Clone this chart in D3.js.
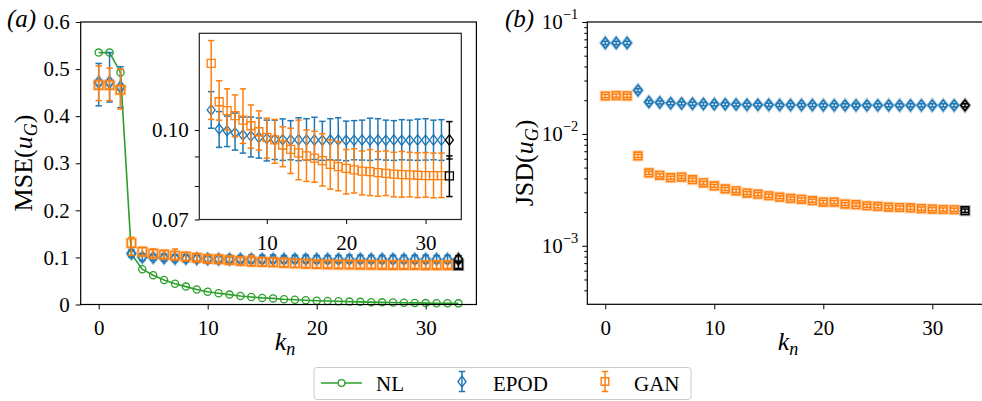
<!DOCTYPE html>
<html><head><meta charset="utf-8">
<script src="https://cdn.jsdelivr.net/npm/d3@7"></script>
<style>
body{margin:0;background:#fff}
svg{display:block}
text{font-family:"Liberation Serif","Times New Roman","DejaVu Serif",serif;fill:#000}
</style>
</head><body>
<svg id="c" width="982" height="401"></svg>
<script>
// ---------------- DATA ----------------
const kNL = [0,1,2,3,4,5,6,7,8,9,10,11,12,13,14,15,16,17,18,19,20,21,22,23,24,25,26,27,28,29,30,31,32,33];
const kModel = [0,1,2,3,4,5,6,7,8,9,10,11,12,13,14,15,16,17,18,19,20,21,22,23,24,25,26,27,28,29,30,31,32];
const kRef = 33;

const nlMse = [0.535,0.535,0.493,0.107,0.075,0.062,0.052,0.044,0.038,0.032,0.027,0.024,0.021,0.018,0.016,0.014,0.013,0.011,0.010,0.009,0.008,0.0075,0.007,0.0062,0.0056,0.005,0.0046,0.0042,0.0038,0.0034,0.003,0.0028,0.0026,0.0024];

const epodMse = [0.472,0.472,0.462,0.1083,0.1004,0.0997,0.0989,0.0980,0.0976,0.0971,0.0967,0.0963,0.0962,0.0961,0.0962,0.0961,0.0961,0.0960,0.0961,0.0961,0.0960,0.0960,0.0961,0.0960,0.0961,0.0960,0.0961,0.0960,0.0960,0.0961,0.0960,0.0961,0.0961];
const epodLo = [0.422,0.430,0.418,0.1007,0.0933,0.0936,0.0923,0.0912,0.0898,0.0894,0.0884,0.0889,0.0886,0.0888,0.0885,0.0887,0.0889,0.0886,0.0888,0.0887,0.0885,0.0888,0.0887,0.0886,0.0889,0.0887,0.0886,0.0888,0.0887,0.0886,0.0887,0.0888,0.0886];
const epodHi = [0.512,0.535,0.505,0.1165,0.1076,0.1057,0.1070,0.1053,0.1053,0.1049,0.1040,0.1040,0.1045,0.1038,0.1050,0.1046,0.1052,0.1035,0.1046,0.1050,0.1036,0.1038,0.1040,0.1048,0.1046,0.1040,0.1038,0.1042,0.1040,0.1044,0.1046,0.1040,0.1042];

const ganMse = [0.466,0.466,0.456,0.1304,0.1119,0.1080,0.1059,0.1040,0.1017,0.0993,0.0971,0.0961,0.0942,0.0926,0.0913,0.0902,0.0894,0.0885,0.0872,0.0864,0.0858,0.0853,0.0849,0.0847,0.0844,0.0841,0.0839,0.0837,0.0836,0.0835,0.0834,0.0834,0.0834];
const ganLo = [0.433,0.433,0.415,0.1043,0.1040,0.1000,0.0974,0.0948,0.0930,0.0923,0.0894,0.0876,0.0864,0.0841,0.0820,0.0815,0.0812,0.0800,0.0790,0.0785,0.0775,0.0778,0.0772,0.0770,0.0768,0.0770,0.0766,0.0765,0.0766,0.0764,0.0765,0.0763,0.0764];
const ganHi = [0.507,0.502,0.500,0.1428,0.1217,0.1178,0.1150,0.1178,0.1105,0.1079,0.1048,0.1043,0.1013,0.1007,0.1040,0.1000,0.0995,0.0985,0.0962,0.0955,0.0925,0.0928,0.0920,0.0925,0.0918,0.0920,0.0915,0.0918,0.0915,0.0913,0.0914,0.0912,0.0912];

const refEpodMse = [0.0961, 0.0891, 0.1034]; // value, low, high
const refGanMse  = [0.0833, 0.0767, 0.0902];

const jsdEpod = [0.065,0.065,0.065,0.0245,0.0193,0.0191,0.0188,0.0187,0.0186,0.0185,0.0184,0.0184,0.0183,0.0182,0.0182,0.0182,0.0181,0.0181,0.0181,0.0181,0.0180,0.0180,0.0180,0.0180,0.0180,0.0180,0.0180,0.0180,0.0180,0.0180,0.0180,0.0180,0.0180];
const jsdEpodErr = [0.0022,0.0022,0.0022,0.0008,0.0006,0.0006,0.0006,0.0006,0.0006,0.0006,0.0006,0.0006,0.0006,0.0006,0.0006,0.0006,0.0006,0.0006,0.0006,0.0006,0.0006,0.0006,0.0006,0.0006,0.0006,0.0006,0.0006,0.0006,0.0006,0.0006,0.0006,0.0006,0.0006];
const jsdGan = [0.0218,0.0220,0.0219,0.00635,0.00448,0.00426,0.00406,0.00411,0.00390,0.00365,0.00343,0.00322,0.00310,0.00296,0.00289,0.00280,0.00272,0.00265,0.00260,0.00253,0.00246,0.00246,0.00236,0.00233,0.00228,0.00225,0.00222,0.00220,0.00218,0.00215,0.00213,0.00211,0.00210];
const jsdGanErr = [0.0007,0.0007,0.0007,0.0002,0.00014,0.00013,0.00012,0.00012,0.00012,0.00011,0.0001,0.0001,0.0001,0.00009,0.00009,0.00009,0.00008,0.00008,0.00008,0.00008,0.00008,0.00008,0.00007,0.00007,0.00007,0.00007,0.00007,0.00007,0.00007,0.00007,0.00007,0.00007,0.00007];
const refJsdEpod = [0.0180, 0.0006];
const refJsdGan = [0.00206, 0.00007];

const xTicks = [0,10,20,30];
const yTicksL = [0,0.1,0.2,0.3,0.4,0.5,0.6];
const yTickLabelsL = ["0","0.1","0.2","0.3","0.4","0.5","0.6"];
const yMajorR = [1e-3,1e-2,1e-1];
const yMajorRExp = ["−3","−2","−1"];
const yMinorR = [4e-4,5e-4,6e-4,7e-4,8e-4,9e-4,2e-3,3e-3,4e-3,5e-3,6e-3,7e-3,8e-3,9e-3,2e-2,3e-2,4e-2,5e-2,6e-2,7e-2,8e-2,9e-2];
const insetXTicks = [10,20,30];
const insetYTicks = [0.07,0.08,0.09,0.10];
const insetYLabels = ["0.07","","","0.10"];
const legendNames = ["NL","EPOD","GAN"];

// ---------------- STYLE ----------------
const C = {nl:"#2ca02c", epod:"#1f77b4", gan:"#ff7f0e", ref:"#000"};
const L = {x0:80.7, x1:476.4, y0:22, y1:304.5};
const R = {x0:587.3, x1:983, y0:22, y1:304.3};
const I = {x0:199.3, x1:461.3, y0:33.3, y1:219.5};
const TF = 21; // tick font

const svg = d3.select("#c");

const xL = d3.scaleLinear().domain([-1.65,34.65]).range([L.x0,L.x1]);
const yL = d3.scaleLinear().domain([0,0.6]).range([L.y1,L.y0]);
const xR = d3.scaleLinear().domain([-1.65,34.65]).range([R.x0,R.x1]);
const yR = d3.scaleLog().domain([3e-4,1e-1]).range([R.y1,R.y0]);
const xI = d3.scaleLinear().domain([1.5,34.5]).range([I.x0,I.x1]);
const yI = d3.scaleLog().domain([0.07,0.147]).range([I.y1,I.y0]);

function diamond(cx,cy,hw,hh){return `M${cx},${cy-hh}L${cx+hw},${cy}L${cx},${cy+hh}L${cx-hw},${cy}Z`;}
function square(cx,cy,h){return `M${cx-h},${cy-h}H${cx+h}V${cy+h}H${cx-h}Z`;}

function errBar(g,x,yLo,yHi,color,cap,lw){
  g.append("line").attr("x1",x).attr("x2",x).attr("y1",yLo).attr("y2",yHi).attr("stroke",color).attr("stroke-width",lw);
  g.append("line").attr("x1",x-cap).attr("x2",x+cap).attr("y1",yLo).attr("y2",yLo).attr("stroke",color).attr("stroke-width",lw);
  g.append("line").attr("x1",x-cap).attr("x2",x+cap).attr("y1",yHi).attr("y2",yHi).attr("stroke",color).attr("stroke-width",lw);
}

function series(g, ks, vals, lo, hi, xs, ys, color, shape, opt){
  ks.forEach((k,i)=>{
    errBar(g, xs(k), ys(lo[i]), ys(hi[i]), color, opt.cap, opt.lw);
  });
  ks.forEach((k,i)=>{
    const cx=xs(k), cy=ys(vals[i]);
    const d = shape==="d" ? diamond(cx,cy,opt.hw,opt.hh) : square(cx,cy,opt.sq);
    if (opt.halo) g.append("path").attr("d",d).attr("fill","none").attr("stroke",color)
        .attr("stroke-opacity",0.3).attr("stroke-width",opt.halo);
    g.append("path").attr("d",d).attr("fill","none").attr("stroke",color).attr("stroke-width",opt.mlw);
  });
}

function frame(g,b,stroke,sw){
  g.append("rect").attr("x",b.x0).attr("y",b.y0).attr("width",b.x1-b.x0).attr("height",b.y1-b.y0)
   .attr("fill","none").attr("stroke",stroke).attr("stroke-width",sw);
}

function styleAxis(a){
  a.attr("font-family",null).attr("font-size",null);
  a.select(".domain").remove();
  a.selectAll(".tick line").attr("stroke","#000").attr("stroke-width",1);
  a.selectAll(".tick text").attr("font-size",TF).attr("fill","#000");
}

// ---------------- LEFT PANEL ----------------
const gL = svg.append("g");
const axL = gL.append("g").attr("transform",`translate(0,${L.y1})`)
  .call(d3.axisBottom(xL).tickValues(xTicks).tickSize(5).tickPadding(6).tickFormat(d3.format("d")));
styleAxis(axL);
const ayL = gL.append("g").attr("transform",`translate(${L.x0},0)`)
  .call(d3.axisLeft(yL).tickValues(yTicksL).tickSize(5).tickPadding(6).tickFormat((d,i)=>yTickLabelsL[i]));
styleAxis(ayL);
axL.selectAll(".tick text").attr("dy","0.95em");

// NL line
const lineNL = d3.line().x((d,i)=>xL(kNL[i])).y(d=>yL(d));
gL.append("path").attr("d",lineNL(nlMse)).attr("fill","none").attr("stroke",C.nl).attr("stroke-width",1.6);
nlMse.forEach((v,i)=>{
  gL.append("circle").attr("cx",xL(kNL[i])).attr("cy",yL(v)).attr("r",3.6)
    .attr("fill","none").attr("stroke",C.nl).attr("stroke-width",1.3);
});
const optMain = {cap:3.2, lw:1.5, hw:4.2, hh:5.6, sq:4.2, mlw:1.4, halo:3.2};
series(gL,kModel,epodMse,epodLo,epodHi,xL,yL,C.epod,"d",optMain);
series(gL,kModel,ganMse,ganLo,ganHi,xL,yL,C.gan,"s",optMain);
series(gL,[kRef],[refEpodMse[0]],[refEpodMse[1]],[refEpodMse[2]],xL,yL,C.ref,"d",optMain);
series(gL,[kRef],[refGanMse[0]],[refGanMse[1]],[refGanMse[2]],xL,yL,C.ref,"s",optMain);
frame(gL,L,"#000",1.2);

// ---------------- INSET ----------------
const gI = svg.append("g");
gI.append("rect").attr("x",I.x0).attr("y",I.y0).attr("width",I.x1-I.x0).attr("height",I.y1-I.y0).attr("fill","#fff");
const axI = gI.append("g").attr("transform",`translate(0,${I.y1})`)
  .call(d3.axisBottom(xI).tickValues(insetXTicks).tickSize(4.5).tickPadding(6).tickFormat(d3.format("d")));
styleAxis(axI);
axI.selectAll(".tick text").attr("dy","0.95em");
const ayI = gI.append("g").attr("transform",`translate(${I.x0},0)`)
  .call(d3.axisLeft(yI).tickValues(insetYTicks).tickSize(4.5).tickPadding(6).tickFormat((d,i)=>insetYLabels[i]));
styleAxis(ayI);
const kIn = kModel.slice(3);
const optIn = {cap:3.2, lw:1.5, hw:4.0, hh:5.2, sq:4.0, mlw:1.3, halo:0};
series(gI,kIn,epodMse.slice(3),epodLo.slice(3),epodHi.slice(3),xI,yI,C.epod,"d",optIn);
series(gI,kIn,ganMse.slice(3),ganLo.slice(3),ganHi.slice(3),xI,yI,C.gan,"s",optIn);
series(gI,[kRef],[refEpodMse[0]],[refEpodMse[1]],[refEpodMse[2]],xI,yI,C.ref,"d",optIn);
series(gI,[kRef],[refGanMse[0]],[refGanMse[1]],[refGanMse[2]],xI,yI,C.ref,"s",optIn);
frame(gI,I,"#222",1.2);

// ---------------- RIGHT PANEL ----------------
const gR = svg.append("g");
const axR = gR.append("g").attr("transform",`translate(0,${R.y1})`)
  .call(d3.axisBottom(xR).tickValues(xTicks).tickSize(5).tickPadding(6).tickFormat(d3.format("d")));
styleAxis(axR);
axR.selectAll(".tick text").attr("dy","0.95em");
const ayR = gR.append("g").attr("transform",`translate(${R.x0},0)`)
  .call(d3.axisLeft(yR).tickValues(yMajorR).tickSize(5).tickFormat(""));
styleAxis(ayR);
const ayRm = gR.append("g").attr("transform",`translate(${R.x0},0)`)
  .call(d3.axisLeft(yR).tickValues(yMinorR).tickSize(3).tickFormat(""));
styleAxis(ayRm);
yMajorR.forEach((v,i)=>{
  const t = gR.append("text").attr("x",R.x0-9).attr("y",yR(v)).attr("text-anchor","end")
    .attr("dominant-baseline","central").attr("font-size",TF);
  t.append("tspan").text("10");
  t.append("tspan").attr("dy",-8).attr("font-size",14.5).text(yMajorRExp[i]);
});
const jsdEpodLo = jsdEpod.map((v,i)=>v-jsdEpodErr[i]);
const jsdEpodHi = jsdEpod.map((v,i)=>v+jsdEpodErr[i]);
const jsdGanLo = jsdGan.map((v,i)=>v-jsdGanErr[i]);
const jsdGanHi = jsdGan.map((v,i)=>v+jsdGanErr[i]);
const optR = {cap:3.2, lw:1.5, hw:4.2, hh:5.4, sq:3.8, mlw:1.6, halo:3.6};
series(gR,kModel,jsdEpod,jsdEpodLo,jsdEpodHi,xR,yR,C.epod,"d",optR);
series(gR,kModel,jsdGan,jsdGanLo,jsdGanHi,xR,yR,C.gan,"s",optR);
series(gR,[kRef],[refJsdEpod[0]],[refJsdEpod[0]-refJsdEpod[1]],[refJsdEpod[0]+refJsdEpod[1]],xR,yR,C.ref,"d",optR);
series(gR,[kRef],[refJsdGan[0]],[refJsdGan[0]-refJsdGan[1]],[refJsdGan[0]+refJsdGan[1]],xR,yR,C.ref,"s",optR);
frame(gR,R,"#000",1.2);

// ---------------- LABELS ----------------
function yLabel(x, cy, name){
  const t = svg.append("text").attr("transform",`translate(${x},${cy}) rotate(-90)`)
    .attr("text-anchor","middle").attr("font-size",26);
  t.append("tspan").text(name+"(");
  t.append("tspan").attr("font-style","italic").text("u");
  t.append("tspan").attr("font-style","italic").attr("font-size",18).attr("dy",5).text("G");
  t.append("tspan").attr("dy",-5).text(")");
}
yLabel(32,163,"MSE");
yLabel(533,163,"JSD");

function xLabel(cx){
  const t = svg.append("text").attr("x",cx).attr("y",350).attr("text-anchor","middle").attr("font-size",26);
  t.append("tspan").attr("font-style","italic").text("k");
  t.append("tspan").attr("font-style","italic").attr("font-size",18).attr("dy",5).text("n");
}
xLabel(285);
xLabel(788);

svg.append("text").attr("x",7).attr("y",27).attr("font-size",25).attr("font-style","italic").text("(a)");
svg.append("text").attr("x",505).attr("y",27).attr("font-size",25).attr("font-style","italic").text("(b)");

// ---------------- LEGEND ----------------
const lg = svg.append("g");
lg.append("rect").attr("x",314).attr("y",367.5).attr("width",377).attr("height",32).attr("rx",3)
  .attr("fill","#fff").attr("stroke","#ccc").attr("stroke-width",1);
const ly = 383;
lg.append("line").attr("x1",321).attr("x2",362).attr("y1",ly).attr("y2",ly).attr("stroke",C.nl).attr("stroke-width",1.6);
lg.append("circle").attr("cx",341.5).attr("cy",ly).attr("r",3.4).attr("fill","#fff").attr("stroke",C.nl).attr("stroke-width",1.3);
errBar(lg,462,371.5,391.5,C.epod,3.2,1.5);
lg.append("path").attr("d",diamond(462,ly-1.5,4,5.6)).attr("fill","none").attr("stroke",C.epod).attr("stroke-width",1.4);
errBar(lg,605,371.5,391.5,C.gan,3.2,1.5);
lg.append("path").attr("d",square(605,ly-1.5,3.8)).attr("fill","none").attr("stroke",C.gan).attr("stroke-width",1.4);
const lx = [376,493,634];
legendNames.forEach((n,i)=>{
  lg.append("text").attr("x",lx[i]).attr("y",390.5).attr("font-size",21).text(n);
});
</script>
</body></html>
